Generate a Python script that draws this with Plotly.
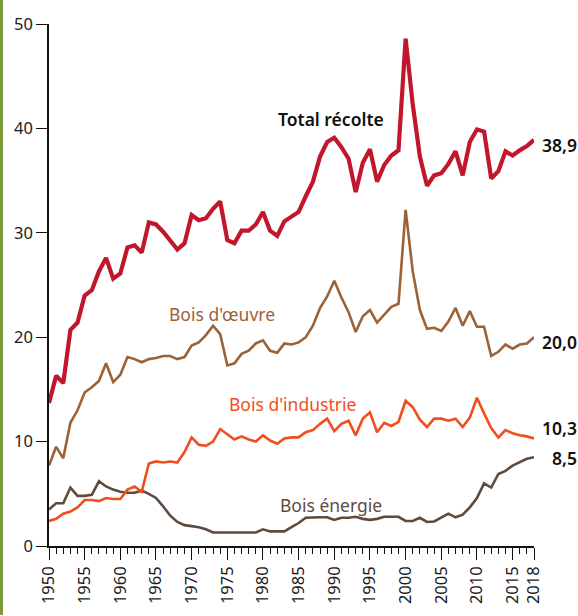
import plotly.graph_objects as go

years = list(range(1950, 2019))

total = [13.7, 16.3, 15.6, 20.7, 21.4, 24.0, 24.5, 26.3, 27.6, 25.6,
         26.1, 28.6, 28.8, 28.1, 31.0, 30.8, 30.1, 29.3, 28.4, 29.0,
         31.7, 31.2, 31.4, 32.3, 33.0, 29.3, 29.0, 30.2, 30.2, 30.8,
         32.0, 30.2, 29.7, 31.1, 31.6, 32.0, 33.5, 34.9, 37.3, 38.7,
         39.1, 38.2, 37.1, 33.9, 36.7, 38.0, 34.9, 36.5, 37.4, 37.9,
         48.6, 42.3, 37.3, 34.5, 35.5, 35.7, 36.6, 37.8, 35.5, 38.7,
         39.9, 39.7, 35.2, 35.9, 37.8, 37.4, 37.9, 38.3, 38.9]

oeuvre = [7.7, 9.5, 8.4, 11.8, 13.0, 14.7, 15.2, 15.8, 17.5, 15.7,
          16.4, 18.1, 17.9, 17.6, 17.9, 18.0, 18.2, 18.2, 17.9, 18.1,
          19.2, 19.5, 20.2, 21.1, 20.3, 17.3, 17.5, 18.4, 18.7, 19.4,
          19.7, 18.7, 18.5, 19.4, 19.3, 19.5, 20.0, 21.1, 22.8, 23.9,
          25.4, 23.8, 22.4, 20.5, 22.0, 22.6, 21.4, 22.1, 22.9, 23.2,
          32.2, 26.3, 22.6, 20.8, 20.9, 20.6, 21.5, 22.8, 21.1, 22.5,
          21.0, 21.0, 18.2, 18.6, 19.3, 18.9, 19.3, 19.4, 20.0]

industrie = [2.4, 2.6, 3.1, 3.3, 3.7, 4.4, 4.4, 4.3, 4.6, 4.5,
             4.5, 5.4, 5.7, 5.2, 7.9, 8.1, 8.0, 8.1, 8.0, 9.0,
             10.4, 9.7, 9.6, 10.0, 11.2, 10.7, 10.2, 10.5, 10.2, 10.0,
             10.6, 10.1, 9.8, 10.3, 10.4, 10.4, 10.9, 11.1, 11.7, 12.2,
             11.0, 11.7, 12.0, 10.6, 12.2, 12.8, 10.9, 11.8, 11.5, 11.9,
             13.9, 13.3, 12.1, 11.4, 12.2, 12.2, 12.0, 12.2, 11.4, 12.3,
             14.2, 12.7, 11.3, 10.4, 11.1, 10.8, 10.6, 10.5, 10.3]

energie = [3.5, 4.1, 4.1, 5.6, 4.8, 4.8, 4.9, 6.2, 5.7, 5.4,
           5.2, 5.1, 5.1, 5.3, 5.0, 4.6, 3.8, 2.9, 2.3, 2.0,
           1.9, 1.8, 1.6, 1.3, 1.3, 1.3, 1.3, 1.3, 1.3, 1.3,
           1.6, 1.4, 1.4, 1.4, 1.8, 2.2, 2.7, 2.75, 2.75, 2.75,
           2.5, 2.7, 2.7, 2.8, 2.6, 2.5, 2.6, 2.8, 2.8, 2.8,
           2.4, 2.4, 2.7, 2.3, 2.35, 2.75, 3.1, 2.75, 3.0, 3.7,
           4.6, 6.0, 5.6, 6.9, 7.2, 7.7, 8.0, 8.35, 8.5]

x_tickvals = [1950, 1955, 1960, 1965, 1970, 1975, 1980, 1985, 1990, 1995,
              2000, 2005, 2010, 2015, 2018]
y_tickvals = [0, 10, 20, 30, 40, 50]

series_labels = ["Total récolte", "Bois d'œuvre", "Bois d'industrie", "Bois énergie"]
end_labels = ["38,9", "20,0", "10,3", "8,5"]

C_TOTAL = "#c1162b"
C_OEUVRE = "#9c6236"
C_IND = "#f04e1f"
C_ENE = "#5f4b3e"
FONT = "Noto Sans"

fig = go.Figure()
for ys, col, w, name in [(energie, C_ENE, 2.6, series_labels[3]),
                         (industrie, C_IND, 2.6, series_labels[2]),
                         (oeuvre, C_OEUVRE, 2.6, series_labels[1]),
                         (total, C_TOTAL, 4.2, series_labels[0])]:
    fig.add_trace(go.Scatter(x=years, y=ys, mode="lines", name=name,
                             line=dict(color=col, width=w), showlegend=False,
                             hoverinfo="x+y"))

# series labels
lab_pos = [(1989.5, 40.9, "#111111", 600), (1974.2, 22.2, C_OEUVRE, 400),
           (1984.2, 13.6, C_IND, 400), (1989.6, 3.9, C_ENE, 400)]
for (xp, yp, col, wt), txt in zip(lab_pos, series_labels):
    fig.add_annotation(x=xp, y=yp, text=txt, showarrow=False,
                       font=dict(family=FONT, size=17.5, color=col, weight=wt),
                       xanchor="center", yanchor="middle")

# end values
shifts = [-5, -5, 10, -1]
for ys, txt, sh in zip([total, oeuvre, industrie, energie], end_labels, shifts):
    fig.add_annotation(x=1, xref="paper", y=ys[-1], yref="y", text=txt,
                       showarrow=False, xanchor="right", yanchor="middle",
                       xshift=45, yshift=sh,
                       font=dict(family=FONT, size=17.5, color="#111111", weight=600))

# green strip at left edge
fig.add_shape(type="rect", xref="paper", yref="paper",
              xsizemode="pixel", ysizemode="pixel", xanchor=0, yanchor=0,
              x0=-49, x1=-46, y0=-69, y1=547,
              fillcolor="#7a9a3c", line=dict(width=0), layer="below")

fig.update_layout(
    width=578, height=616,
    margin=dict(l=49, r=44, t=21, b=69),
    paper_bgcolor="white", plot_bgcolor="white",
    font=dict(family=FONT, size=16, color="#1a1a1a"),
    showlegend=False,
)
fig.update_xaxes(range=[1950, 2018], tickmode="array", tickvals=x_tickvals,
                 ticktext=[str(v) for v in x_tickvals], tickangle=-90,
                 showline=True, linecolor="#111111", linewidth=1.5,
                 ticks="outside", ticklen=12, tickwidth=1.3, tickcolor="#111111",
                 showgrid=False, zeroline=False,
                 tickfont=dict(family=FONT, size=16.5, color="#1a1a1a"),
                 minor=dict(tickmode="linear", tick0=1950, dtick=1, ticks="outside",
                            ticklen=6, tickwidth=1.2, tickcolor="#111111", showgrid=False))
fig.update_yaxes(range=[0, 50], tickmode="array", tickvals=y_tickvals,
                 showline=True, linecolor="#111111", linewidth=1.5,
                 ticks="outside", ticklen=11, tickwidth=1.3, tickcolor="#111111",
                 showgrid=False, zeroline=False,
                 tickfont=dict(family=FONT, size=16.5, color="#1a1a1a"))

fig.write_html("out.html", config={"displayModeBar": False},
               post_script="document.body.style.margin='0';document.body.style.overflow='hidden';")
